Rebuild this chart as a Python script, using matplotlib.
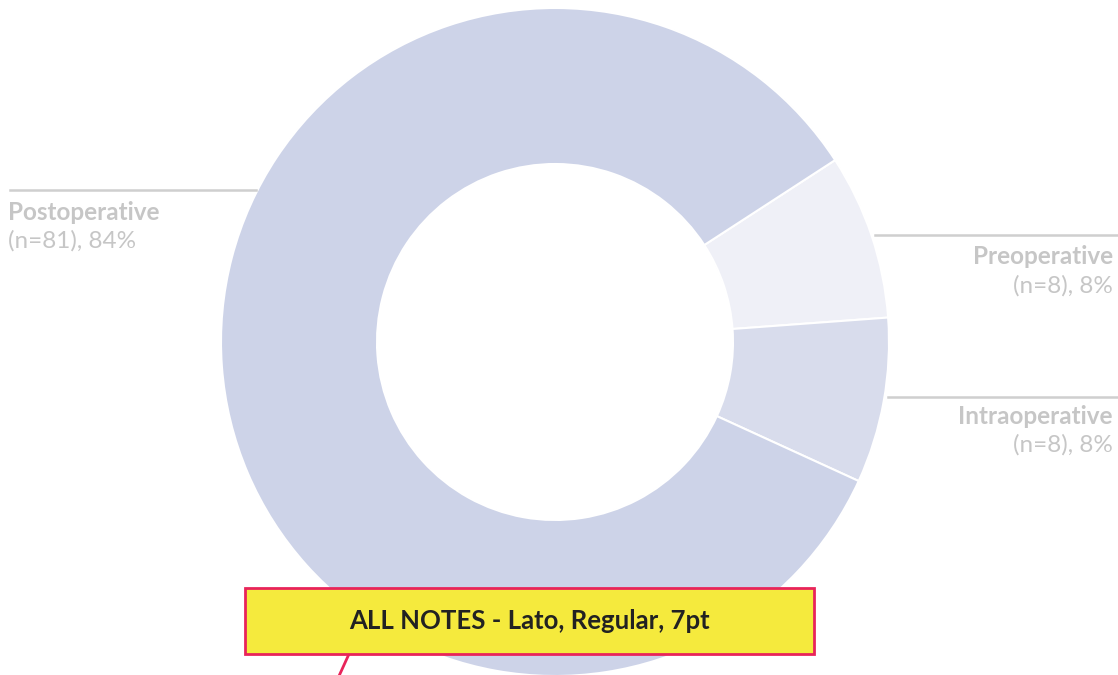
import matplotlib
matplotlib.use("Agg")
import matplotlib.pyplot as plt
from matplotlib.patches import Rectangle

categories = ["Preoperative", "Intraoperative", "Postoperative"]
counts = [8, 8, 81]
percents = [8, 8, 84]
colors = ["#EFF0F7", "#D8DCEC", "#CDD3E8"]
note_text = "ALL NOTES - Lato, Regular, 7pt"

W, H = 1118, 675
fig = plt.figure(figsize=(W / 100, H / 100), dpi=100)
ax = fig.add_axes([0, 0, 1, 1])
ax.set_xlim(0, W)
ax.set_ylim(0, H)
ax.set_aspect("equal")
ax.axis("off")

def Y(y):
    return H - y

cx, cy, R, width = 555, Y(342), 334, 156
ax.pie(percents, colors=colors, center=(cx, cy), radius=R, startangle=33,
       counterclock=False,
       wedgeprops=dict(width=width, edgecolor="white", linewidth=1.5))
ax.set_xlim(0, W)
ax.set_ylim(0, H)

grey = "#C6C6C6"
line_c = "#CFCFCF"
fam = ["Lato", "DejaVu Sans"]
fs = 17.5

# Postoperative (left)
ax.plot([10, 256], [Y(190), Y(190)], color=line_c, lw=1.8)
ax.text(8, Y(212), categories[2], ha="left", va="center", color=grey,
        fontsize=fs, fontweight="bold", family=fam)
ax.text(8, Y(241), f"(n={counts[2]}), {percents[2]}%", ha="left", va="center",
        color=grey, fontsize=fs, family=fam)

# Preoperative (right)
ax.plot([875, 1118], [Y(235), Y(235)], color=line_c, lw=1.8)
ax.text(1113, Y(257), categories[0], ha="right", va="center", color=grey,
        fontsize=fs, fontweight="bold", family=fam)
ax.text(1113, Y(286), f"(n={counts[0]}), {percents[0]}%", ha="right", va="center",
        color=grey, fontsize=fs, family=fam)

# Intraoperative (right)
ax.plot([888, 1118], [Y(397), Y(397)], color=line_c, lw=1.8)
ax.text(1113, Y(416), categories[1], ha="right", va="center", color=grey,
        fontsize=fs, fontweight="bold", family=fam)
ax.text(1113, Y(445), f"(n={counts[1]}), {percents[1]}%", ha="right", va="center",
        color=grey, fontsize=fs, family=fam)

# Note box
ax.plot([349, 339], [Y(654), Y(676)], color="#E8245A", lw=2, clip_on=False)
ax.add_patch(Rectangle((245, Y(654)), 814 - 245, 654 - 588,
                       facecolor="#F5EA3D", edgecolor="#E8245A", lw=2, zorder=5))
ax.text((245 + 814) / 2, Y(621), note_text, ha="center", va="center",
        color="#222222", fontsize=18.5, fontweight="bold", family=fam, zorder=6)

fig.savefig("out.png", dpi=100)
